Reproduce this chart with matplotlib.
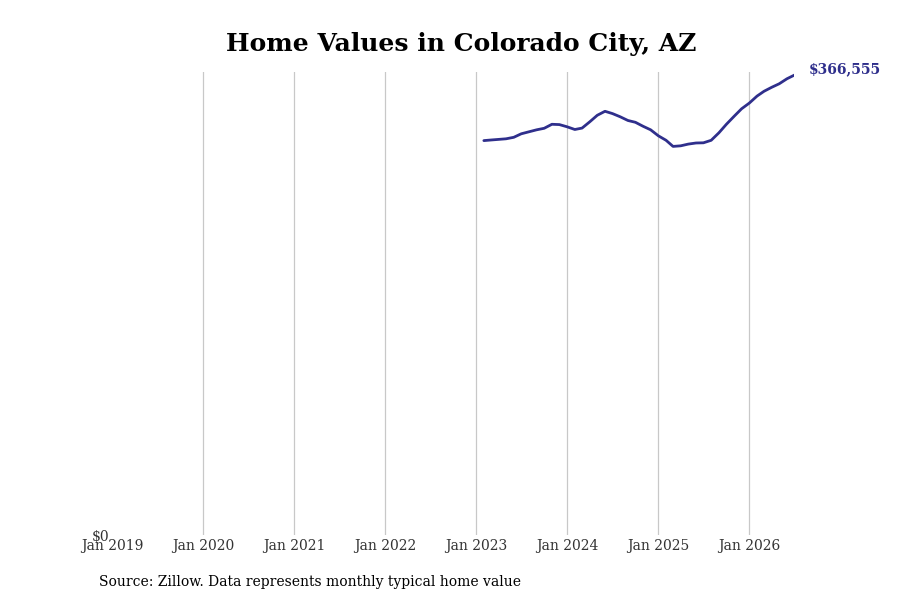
import matplotlib
matplotlib.use("Agg")
import matplotlib.pyplot as plt
import pandas as pd

dates = pd.date_range("2023-02-01", "2026-07-01", freq="MS")
values = [314330, 314800, 315290, 315760, 316960, 319750, 321350, 322940, 324140, 327330, 327090,
          325330, 323180, 324300, 329320, 334500, 337690, 335860, 333310, 330360, 328920, 325730, 322940,
          318160, 314570, 309700, 310180, 311540, 312420, 312580, 314570, 320550, 327330, 333700, 339690,
          344230, 349810, 353640, 356830, 359620, 363610, 366555]
tick_years = list(range(2019, 2027))
tick_labels = [f"Jan {y}" for y in tick_years]
title = "Home Values in Colorado City, AZ"
source = "Source: Zillow. Data represents monthly typical home value"
color = "#2f2f8c"

plt.rcParams['font.family'] = ['DejaVu Serif']
fig = plt.figure(figsize=(9, 6), dpi=100)
ax = fig.add_axes([0.1244, 0.1083, 0.7583, 0.7717])
ax.plot(dates, values, color=color, linewidth=2.0, solid_capstyle='round')
ax.set_xlim(pd.Timestamp("2019-01-01"), dates[-1])
ax.set_ylim(0, 369000)
ticks = [pd.Timestamp(f"{y}-01-01") for y in tick_years]
ax.set_xticks(ticks)
ax.set_xticklabels(tick_labels, fontsize=10, color="#333333")
ax.set_yticks([0])
ax.set_yticklabels(["$0"], fontsize=10, color="#333333")
ax.tick_params(length=0, pad=2)
ax.tick_params(axis='x', pad=3)
for t in ticks[1:]:
    ax.axvline(t, color="#c8c8c8", linewidth=0.9, zorder=0)
for s in ax.spines.values():
    s.set_visible(False)
ax.annotate(f"${values[-1]:,}", xy=(dates[-1], values[-1]), xytext=(10, 4),
            textcoords="offset points", fontsize=10, fontweight="bold", color=color,
            va="center", ha="left")
fig.text(0.512, 0.927, title, ha="center", va="center", fontsize=18, fontweight="bold")
fig.text(0.11, 0.03, source, ha="left", va="center", fontsize=10)
fig.savefig("out.png", dpi=100)
